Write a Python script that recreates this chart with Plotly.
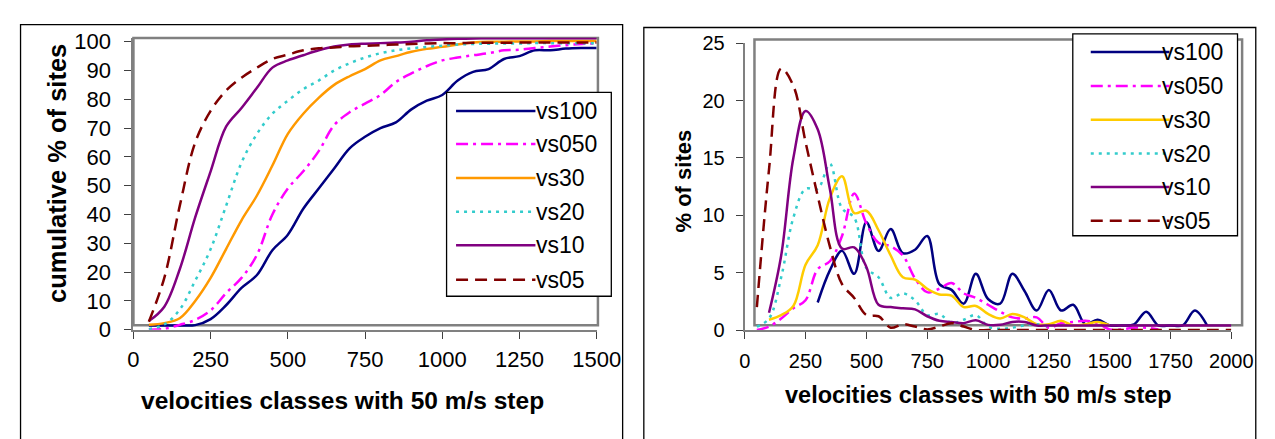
import plotly.graph_objects as go

W, H = 1275, 439

# ---------------- data: cumulative chart ----------------
x_cum = [50, 100, 150, 200, 250, 300, 350, 400, 450, 500, 550, 600, 650, 700, 750,
         800, 850, 900, 950, 1000, 1050, 1100, 1150, 1200, 1250, 1300, 1350, 1400, 1450, 1500]
cum_vs100 = [1.5, 1.5, 1.5, 1.6, 3.7, 8.5, 14.5, 19, 27.6, 33, 42, 49, 56, 63, 67,
             70, 72, 76.5, 79.5, 81.5, 86.5, 89.5, 90.5, 94, 95, 97, 97, 97.6, 97.8, 97.8]
cum_vs050 = [0, 0.3, 1.7, 3.4, 6.7, 12.7, 18, 26, 40, 49, 55, 62, 71, 75.5, 78.5,
             81.5, 86, 89, 91.5, 93.5, 94.5, 95.3, 96, 97, 97.2, 97.8, 98.3, 98.8, 99.2, 99.4]
cum_vs30 = [1.7, 2.3, 4, 10, 18, 28, 38, 46.6, 57, 68, 75, 80.5, 85, 88, 90.5,
            93.5, 95, 96.5, 97.5, 98.2, 99, 99.7, 100, 100, 100.1, 100.1, 100.2, 100.2, 100.2, 100.2]
cum_vs20 = [0.2, 1.8, 7, 17, 28, 43, 58, 68, 75, 79.5, 83.5, 86.5, 90, 92.5, 94.5,
            96, 97, 97.7, 98.2, 98.6, 99, 99.2, 99.3, 99.4, 99.4, 99.5, 99.5, 99.5, 99.5, 99.5]
cum_vs10 = [3, 8, 21, 39, 55, 70.5, 77, 84, 91, 93.5, 95.3, 97, 98.3, 99, 99.3,
            99.5, 99.7, 100, 100.5, 100.8, 101, 101.1, 101.2, 101.2, 101.2, 101.2, 101.2, 101.2, 101.2, 101.2]
cum_vs05 = [2.8, 18, 43, 65, 76, 83, 87.5, 91, 94, 95.5, 97, 97.7, 98, 98.4, 98.6,
            98.8, 99, 99.2, 99.4, 99.5, 99.5, 99.6, 99.6, 99.6, 99.7, 99.7, 99.7, 99.7, 99.7, 99.7]

# ---------------- data: percentage chart ----------------
x_pct_vs100 = [300, 350, 400, 450, 500, 550, 600, 650, 700, 750, 800, 850, 900, 950, 1000,
               1050, 1100, 1150, 1200, 1250, 1300, 1350, 1400, 1450, 1500, 1550, 1600, 1650,
               1700, 1750, 1800, 1850, 1900]
pct_vs100 = [2.4, 5.2, 6.9, 4.9, 9.4, 6.9, 8.8, 6.7, 7.0, 8.2, 4.0, 3.5, 2.3, 4.9, 2.7,
             2.3, 4.9, 3.4, 1.7, 3.5, 1.7, 2.2, 0.5, 0.9, 0.4, 0.4, 0.5, 1.6,
             0.4, 0.4, 0.4, 1.7, 0.4]
x_pct_vs050 = [50, 100, 150, 200, 250, 300, 350, 400, 450, 500, 550, 600, 650, 700, 750,
               800, 850, 900, 950, 1000, 1050, 1100, 1150, 1200, 1250, 1300, 1350, 1400,
               1450, 1500, 1550, 1600, 1650, 1700]
pct_vs050 = [0, 0.3, 1.0, 1.9, 2.6, 5.3, 6.0, 8.2, 11.9, 9.3, 7.6, 7.3, 6.5, 4.5, 3.3,
             3.6, 4.1, 3.2, 2.8, 2.2, 1.6, 1.1, 1.0, 1.1, 0.2, 0.6, 0.7, 0.8,
             0.6, 0.05, 0.05, 0.2, 0.2, 0.05]
x_pct_vs30 = [100, 150, 200, 250, 300, 350, 400, 450, 500, 550, 600, 650, 700, 750,
              800, 850, 900, 950, 1000, 1050, 1100, 1150, 1200, 1250, 1300, 1350, 1400, 1450, 1500]
pct_vs30 = [0.9, 1.3, 2.1, 5.7, 7.4, 11.5, 13.4, 10.2, 10.4, 8.7, 6.5, 4.6, 4.4, 3.6,
            3.1, 3.0, 2.0, 2.1, 1.4, 1.0, 1.4, 1.1, 0.5, 0.5, 0.8, 0.4, 0.5, 0.7, 0.4]
x_pct_vs20 = [50, 100, 150, 200, 250, 300, 350, 400, 450, 500, 550, 600, 650, 700, 750,
              800, 850, 900, 950, 1000, 1050, 1100, 1150, 1200, 1250]
pct_vs20 = [0.3, 1.0, 4.6, 9.8, 12.3, 12.3, 14.5, 10.6, 9.8, 5.4, 4.6, 2.8, 3.2, 2.6, 1.3,
            1.4, 0.6, 0.9, 1.3, 0.3, 0.1, 0.2, 0.4, 0.5, 0.3]
x_pct_vs10 = [100, 150, 200, 250, 300, 350, 400, 450, 500, 550, 600, 650, 700, 750,
              800, 850, 900, 950, 1000, 1050, 1100, 1150, 1200, 1250, 1300, 1350, 1400,
              1450, 1500, 1550, 1600, 1650, 1700, 1750, 1800, 1850, 1900, 1950, 2000]
pct_vs10 = [1.5, 6.5, 15, 19.1, 17.5, 12.3, 7.1, 7.2, 5.5, 2.2, 2.0, 1.9, 1.8, 1.2,
            0.8, 0.7, 0.6, 0.85, 0.45, 0.45, 0.7, 0.7, 0.4, 0.4, 0.4, 0.4, 0.4,
            0.4, 0.4, 0.4, 0.4, 0.4, 0.4, 0.4, 0.4, 0.4, 0.4, 0.4, 0.4]
x_pct_vs05 = [50, 100, 150, 200, 250, 300, 350, 400, 450, 500, 550, 600, 650, 700, 750,
              800, 850, 900, 950, 1000, 1100, 1200, 1300, 1400, 1500, 1600, 1700, 1800, 1900, 2000]
pct_vs05 = [2.0, 14, 22.8, 21.3, 16.4, 11.7, 7.3, 4.0, 2.8, 1.3, 1.2, 0.2, 0.5, 0.3, 0.05,
            0.3, 0.6, 0.3, 0, 0, 0, 0, 0, 0, 0, 0, 0, 0, 0, 0]

series_names = ["vs100", "vs050", "vs30", "vs20", "vs10", "vs05"]
left_colors = ["#000080", "#FF00FF", "#FF9900", "#33CCCC", "#800080", "#800000"]
right_colors = ["#000080", "#FF00FF", "#FFCC00", "#33CCCC", "#800080", "#800000"]
dashes = ["solid", "12px,5px,3px,5px", "solid", "3px,5px", "solid", "12px,7px"]

x_ticks_left = [0, 250, 500, 750, 1000, 1250, 1500]
y_ticks_left = [0, 10, 20, 30, 40, 50, 60, 70, 80, 90, 100]
x_ticks_right = [0, 250, 500, 750, 1000, 1250, 1500, 1750, 2000]
y_ticks_right = [0, 5, 10, 15, 20, 25]


def px(x):
    return x / W


def py(y):
    return 1 - y / H


FONT = "Liberation Sans, Arial, sans-serif"
AXIS_GRAY = "#808080"

fig = go.Figure()

left_series = [cum_vs100, cum_vs050, cum_vs30, cum_vs20, cum_vs10, cum_vs05]
for name, ys, col, dsh in zip(series_names, left_series, left_colors, dashes):
    fig.add_trace(go.Scatter(x=x_cum, y=ys, mode="lines", name=name, showlegend=False,
                             line=dict(color=col, width=2.5, dash=dsh, shape="spline", smoothing=1.0),
                             xaxis="x", yaxis="y"))

right_x = [x_pct_vs100, x_pct_vs050, x_pct_vs30, x_pct_vs20, x_pct_vs10, x_pct_vs05]
right_series = [pct_vs100, pct_vs050, pct_vs30, pct_vs20, pct_vs10, pct_vs05]
for name, xs, ys, col, dsh in zip(series_names, right_x, right_series, right_colors, dashes):
    fig.add_trace(go.Scatter(x=xs, y=ys, mode="lines", name=name, showlegend=False,
                             line=dict(color=col, width=2.5, dash=dsh, shape="spline", smoothing=1.0),
                             xaxis="x2", yaxis="y2"))


def axis_style(size, standoff):
    return dict(showgrid=False, zeroline=False, showline=True, linecolor=AXIS_GRAY, linewidth=2,
                ticks="outside", ticklen=7, tickwidth=1, tickcolor="#404040",
                ticklabelstandoff=standoff,
                tickfont=dict(family=FONT, size=size, color="black"))


# left plot geometry (pixels)
L_x0, L_x1 = 122.3, 596.7
L_y0 = 328.7
L_ppu = 3.047
L_ymax = 101.4
L_ytop = L_y0 - L_ymax * L_ppu

R_x0, R_x1 = 748.3, 1246.7
R_y0, R_y1 = 329.0, 25.7

fig.update_layout(
    width=W, height=H, margin=dict(l=0, r=0, t=0, b=0),
    paper_bgcolor="white", plot_bgcolor="rgba(0,0,0,0)",
    xaxis=dict(domain=[px(L_x0), px(L_x1)], range=[0, 1500], tickvals=x_ticks_left, anchor="y",
               **axis_style(22, 2)),
    yaxis=dict(domain=[py(L_y0), py(L_ytop)], range=[0, L_ymax], tickvals=y_ticks_left, anchor="x",
               **axis_style(22, 9)),
    xaxis2=dict(domain=[px(R_x0), px(R_x1)], range=[0, 2000], tickvals=x_ticks_right, anchor="y2",
                **axis_style(20, 5)),
    yaxis2=dict(domain=[py(R_y0), py(R_y1)], range=[0, 25], tickvals=y_ticks_right, anchor="x2",
                **axis_style(20, 7)),
)

shapes = []
# outer chart borders
shapes.append(dict(type="rect", xref="paper", yref="paper", x0=px(6.7), x1=px(623.3), y0=py(445), y1=py(6),
                   line=dict(color="black", width=1.3), layer="below"))
shapes.append(dict(type="rect", xref="paper", yref="paper", x0=px(645), x1=px(1271.7), y0=py(445), y1=py(9),
                   line=dict(color="black", width=1.3), layer="below"))
# gray plot-area frames
shapes.append(dict(type="rect", xref="paper", yref="paper", x0=px(122.3), x1=px(598), y0=py(324), y1=py(20),
                   line=dict(color=AXIS_GRAY, width=2.5), layer="below"))
shapes.append(dict(type="rect", xref="paper", yref="paper", x0=px(758.3), x1=px(1257.7), y0=py(324), y1=py(21.7),
                   line=dict(color=AXIS_GRAY, width=2.5), layer="below"))

annotations = []


def add_legend(box, line_x0, line_x1, text_x, rows, colors, size):
    bx0, by0, bx1, by1 = box
    shapes.append(dict(type="rect", xref="paper", yref="paper", x0=px(bx0), x1=px(bx1), y0=py(by1), y1=py(by0),
                       line=dict(color="black", width=1.3), fillcolor="white", layer="above"))
    for name, col, dsh, ry in zip(series_names, colors, dashes, rows):
        shapes.append(dict(type="line", xref="paper", yref="paper", x0=px(line_x0), x1=px(line_x1),
                           y0=py(ry), y1=py(ry), line=dict(color=col, width=2.5, dash=dsh), layer="above"))
        annotations.append(dict(text=name, xref="paper", yref="paper", x=px(text_x), y=py(ry),
                                xanchor="left", yanchor="middle", showarrow=False,
                                font=dict(family=FONT, size=size, color="black")))


add_legend((443, 77.7, 611.7, 293.3), 452.7, 534, 533,
           [97.3, 132.3, 168.3, 204, 239.3, 275.7], left_colors, 23)
add_legend((1084.3, 15.7, 1253, 229.3), 1102.7, 1183.3, 1174,
           [35, 71, 106.7, 142.3, 177.7, 213.3], right_colors, 23)

annotations.append(dict(text="<b>velocities classes with 50 m/s step</b>", xref="paper", yref="paper",
                        x=px(336), y=py(404), xanchor="center", yanchor="middle", showarrow=False,
                        font=dict(family=FONT, size=24.5, color="black")))
annotations.append(dict(text="<b>velocities classes with 50 m/s step</b>", xref="paper", yref="paper",
                        x=px(988), y=py(398), xanchor="center", yanchor="middle", showarrow=False,
                        font=dict(family=FONT, size=23.5, color="black")))
annotations.append(dict(text="<b>cumulative % of sites</b>", xref="paper", yref="paper", textangle=-90,
                        x=px(44), y=py(163), xanchor="center", yanchor="middle", showarrow=False,
                        font=dict(family=FONT, size=25.5, color="black")))
annotations.append(dict(text="<b>% of sites</b>", xref="paper", yref="paper", textangle=-90,
                        x=px(686), y=py(171), xanchor="center", yanchor="middle", showarrow=False,
                        font=dict(family=FONT, size=22, color="black")))

fig.update_layout(shapes=shapes, annotations=annotations)

fig.write_html("out.html")
